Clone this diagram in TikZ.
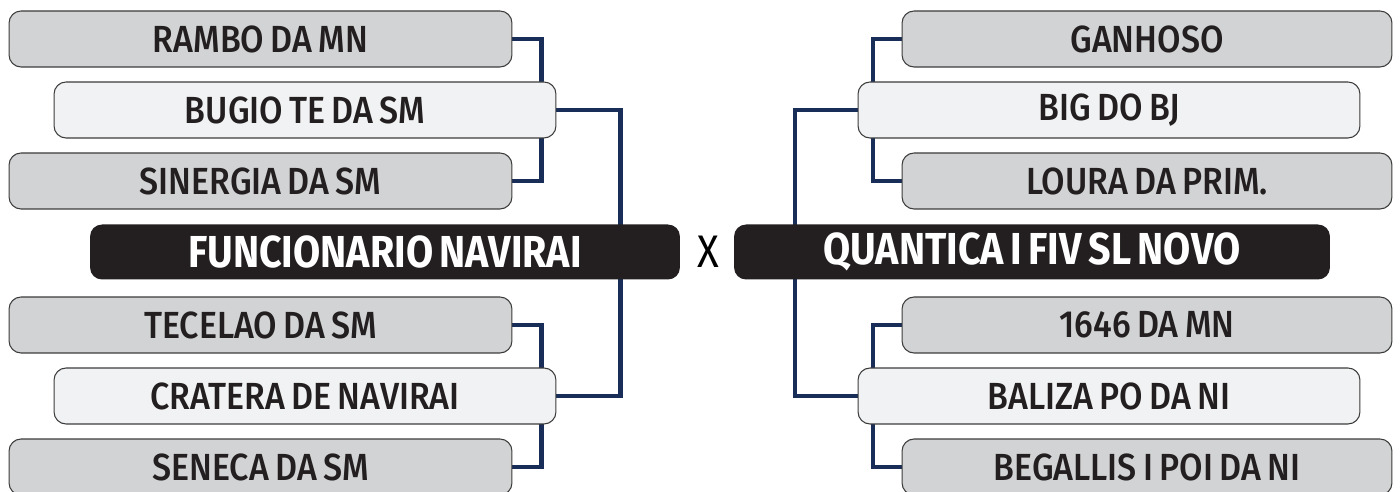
\documentclass[tikz,border=0pt]{standalone}
\usepackage{fontspec}
\setmainfont{Fira Sans}[FakeStretch=0.88, WordSpace=0.7]
\newfontfamily\teamfont{Fira Sans Medium}[FakeStretch=0.9, WordSpace=0.75]
\usepackage{tikz}
\usetikzlibrary{calc, positioning}
\definecolor{boxgrey}{RGB}{209,211,212}
\definecolor{boxlight}{RGB}{241,242,243}
\definecolor{boxline}{RGB}{60,60,60}
\definecolor{boxblack}{RGB}{35,31,32}
\definecolor{navy}{RGB}{24,46,88}
\pgfdeclarelayer{back}
\pgfsetlayers{back,main}

\tikzset{
  team/.style={draw=boxline, line width=0.6pt, rounded corners=0.24cm,
    minimum height=1.12cm, inner sep=0pt, text=boxblack, font=\teamfont\fontsize{21.5}{24}\selectfont},
  greybox/.style={team, fill=boxgrey, minimum width=10.06cm},
  lightbox/.style={team, fill=boxlight, minimum width=10.04cm},
  finalbox/.style={team, draw=none, fill=boxblack, text=white, minimum height=1.1cm,
    font=\fontsize{25.5}{28}\selectfont\bfseries},
  link/.style={draw=navy, line width=2.3pt}
}

\begin{document}
\begin{tikzpicture}[x=0.02cm, y=-0.02cm]
  \useasboundingbox (0,0) rectangle (1400,492);

  % left side
  \foreach \n/\x/\y/\t in {rambo/260.5/39/RAMBO DA MN, sinergia/260.5/181/SINERGIA DA SM,
                           tecelao/260.5/325/TECELAO DA SM, seneca/260.5/467/SENECA DA SM} {
    \node[greybox] (\n) at (\x,\y) {\t};
  }
  \foreach \n/\x/\y/\t in {bugio/305/110/BUGIO TE DA SM, cratera/305/396/CRATERA DE NAVIRAI} {
    \node[lightbox] (\n) at (\x,\y) {\t};
  }
  \node[finalbox, minimum width=11.8cm] (funcionario) at (385,252) {FUNCIONARIO NAVIRAI};

  % right side
  \foreach \n/\x/\y/\t in {ganhoso/1147/39/GANHOSO, loura/1147/181/LOURA DA PRIM.,
                           mn/1147/325/1646 DA MN, begallis/1147/467/BEGALLIS I POI DA NI} {
    \node[greybox, minimum width=9.8cm] (\n) at (\x,\y) {\t};
  }
  \foreach \n/\x/\y/\t in {bigbj/1109/110/BIG DO BJ, baliza/1109/396/BALIZA PO DA NI} {
    \node[lightbox] (\n) at (\x,\y) {\t};
  }
  \node[finalbox, minimum width=11.92cm] (quantica) at (1032,252) {QUANTICA I FIV SL NOVO};

  \node[text=black, font=\fontsize{26}{28}\selectfont] (versus) at (708,252) {X};

  \begin{pgfonlayer}{back}
    \draw[link] (rambo.east) -- ++(29,0) |- (sinergia.east);
    \draw[link] (tecelao.east) -- ++(29,0) |- (seneca.east);
    \draw[link] (bugio.east) -- ++(64,0) |- (cratera.east);
    \draw[link] (ganhoso.west) -- ++(-29,0) |- (loura.west);
    \draw[link] (mn.west) -- ++(-29,0) |- (begallis.west);
    \draw[link] (bigbj.west) -- ++(-63,0) |- (baliza.west);
  \end{pgfonlayer}
\end{tikzpicture}
\end{document}
